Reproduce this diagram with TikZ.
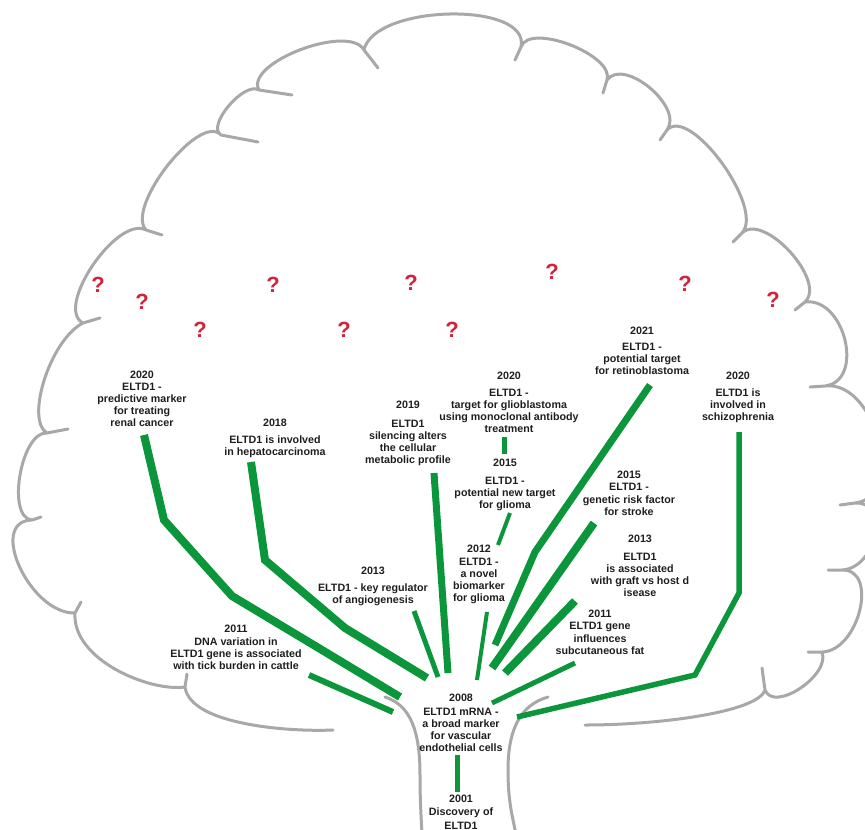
\documentclass[tikz,border=0pt]{standalone}
\usepackage{fontspec}
\setmainfont{Liberation Sans}
\definecolor{treegray}{RGB}{168,168,168}
\definecolor{branchgreen}{RGB}{12,150,60}
\definecolor{txtcol}{RGB}{30,30,30}
\definecolor{qred}{RGB}{210,35,60}
\begin{document}
\begin{tikzpicture}[x=1pt,y=-1pt,
  canopyline/.style={draw=treegray, line width=3pt, line cap=round, line join=round},
  greenbranch/.style={draw=branchgreen, line width=#1, line cap=butt, line join=miter},
  greenbranch/.default=6pt,
  lbl/.style={font=\bfseries\fontsize{10.7}{12.2}\selectfont, text=txtcol, align=center,
    inner sep=0pt, execute at begin node=\strut, execute at end node=\strut},
  qmark/.style={font=\bfseries\fontsize{22}{24}\selectfont, text=qred, inner sep=0pt}]
\useasboundingbox (0,0) rectangle (865,830);
\clip (0,0) rectangle (865,830);

% ---------- canopy outline ----------
\path[canopyline]
  (333,730) .. controls (290,732) and (190,725) .. (185,687) -- (187,674)
  (185,687) .. controls (150,692) and (72,660) .. (75,613) -- (81,602)
  (75,613) .. controls (30,614) and (-13,521) .. (32,520) -- (41,517)
  (32,520) .. controls (6,518) and (21,431) .. (47,433) -- (68,429)
  (47,433) .. controls (25,420) and (50,340) .. (83,323) -- (100,318)
  (83,323) .. controls (54,308) and (117,215) .. (146,230) -- (162,235)
  (146,230) .. controls (125,207) and (200,112) .. (221,135) -- (258,142)
  (221,135) .. controls (206,126) and (244,81) .. (259,90) -- (292,95)
  (259,90) .. controls (244,63) and (349,23) .. (364,50) -- (378,68)
  (364,50) .. controls (374,4) and (531,1) .. (521,47) -- (515,60)
  (521,47) .. controls (529,22) and (615,55) .. (607,80) -- (603,93)
  (607,80) .. controls (624,57) and (684,107) .. (667,130) -- (660,140)
  (667,130) .. controls (690,105) and (765,208) .. (742,233) -- (733,242)
  (742,233) .. controls (764,212) and (827,281) .. (805,302) -- (795,310)
  (805,302) .. controls (845,297) and (865,381) .. (825,386) -- (810,387)
  (825,386) .. controls (876,380) and (906,497) .. (855,503) -- (840,505)
  (855,503) .. controls (890,501) and (877,568) .. (842,570) -- (828,570)
  (842,570) .. controls (879,569) and (859,651) .. (822,652) -- (808,652)
  (822,652) .. controls (831,675) and (774,713) .. (765,690) -- (762,668)
  (765,690) .. controls (758,712) and (660,725) .. (585,725);

% ---------- trunk ----------
\path[canopyline]
  (385,697) .. controls (410,705) and (420,730) .. (420,775)
            .. controls (420,800) and (421,815) .. (422,834);
\path[canopyline]
  (548,697) .. controls (520,705) and (508,730) .. (508,770)
            .. controls (508,800) and (512,815) .. (516,834);

% ---------- question marks ----------
\node[qmark] (q1) at (98,285) {?};
\node[qmark] (q2) at (142,302) {?};
\node[qmark] (q3) at (200,330) {?};
\node[qmark] (q4) at (273,285) {?};
\node[qmark] (q5) at (344,330) {?};
\node[qmark] (q6) at (411,283) {?};
\node[qmark] (q7) at (452,330) {?};
\node[qmark] (q8) at (552,272) {?};
\node[qmark] (q9) at (685,284) {?};
\node[qmark] (q10) at (773,300) {?};

% ---------- labels ----------
\node[lbl] (renal) at (142,400.5) {2020\\ELTD1 -\\predictive marker\\for treating\\renal cancer};
\node[lbl] (hepato) at (275,439.2) {2018\\[4pt]ELTD1 is involved\\in hepatocarcinoma};
\node[lbl] (metab) at (408,434.4) {2019\\[6pt]ELTD1\\silencing alters\\the cellular\\metabolic profile};
\node[lbl] (gliob) at (509,404.4) {2020\\[4pt]ELTD1 -\\target for glioblastoma\\using monoclonal antibody\\treatment};
\node[lbl] (glioma) at (505,485.8) {2015\\[5pt]ELTD1 -\\potential new target\\for glioma};
\node[lbl] (retino) at (642,352.8) {2021\\[3pt]ELTD1 -\\potential target\\for retinoblastoma};
\node[lbl] (schizo) at (738,398.3) {2020\\[4pt]ELTD1 is\\involved in\\schizophrenia};
\node[lbl] (stroke) at (629,495) {2015\\ELTD1 -\\genetic risk factor\\for stroke};
\node[lbl] (graft) at (640,567.9) {2013\\[5pt]ELTD1\\is associated\\with graft vs host d\\isease};
\node[lbl] (fat) at (600,634) {2011\\ELTD1 gene\\influences\\subcutaneous fat};
\node[lbl] (novel) at (479,575.4) {2012\\ELTD1 -\\a novel\\biomarker\\for glioma};
\node[lbl] (angio) at (373,587.2) {2013\\[4pt]ELTD1 - key regulator\\of angiogenesis};
\node[lbl] (tick) at (236,649.3) {2011\\DNA variation in\\ELTD1 gene is associated\\with tick burden in cattle};
\node[lbl] (mrna) at (461,724.9) {2008\\[1pt]ELTD1 mRNA -\\a broad marker\\for vascular\\endothelial cells};
\node[lbl] (disc) at (461,814) {2001\\[1pt]Discovery of\\[1pt]ELTD1};

% ---------- branch points ----------
\coordinate (a1) at (144,435); \coordinate (a2) at (164,520); \coordinate (a3) at (232,596);
\coordinate (a4) at (317,647); \coordinate (a5) at (400,697);
\coordinate (b1) at (251,462); \coordinate (b2) at (265,560); \coordinate (b3) at (345,628);
\coordinate (b4) at (427,678);
\coordinate (c1) at (309,675); \coordinate (c2) at (393,712);
\coordinate (d1) at (414,611); \coordinate (d2) at (438,677);
\coordinate (e1) at (434,473); \coordinate (e2) at (448,673);
\coordinate (f1) at (504,437); \coordinate (f2) at (504,454);
\coordinate (g1) at (510,513); \coordinate (g2) at (498,545);
\coordinate (h1) at (487,612); \coordinate (h2) at (477,680);
\coordinate (i1) at (650,385); \coordinate (i2) at (535,552); \coordinate (i3) at (495,645);
\coordinate (j1) at (594,523); \coordinate (j2) at (492,668);
\coordinate (k1) at (575,601); \coordinate (k2) at (505,673);
\coordinate (l1) at (575,663); \coordinate (l2) at (492,703);
\coordinate (m1) at (739,432); \coordinate (m2) at (739,593); \coordinate (m3) at (695,675);
\coordinate (m4) at (517,717);
\coordinate (n1) at (457,755); \coordinate (n2) at (457,792);

% ---------- branches ----------
\draw[greenbranch=8pt] (a1) -- (a2) -- (a3) -- (a4) -- (a5);
\draw[greenbranch=8pt] (b1) -- (b2) -- (b3) -- (b4);
\draw[greenbranch=6pt] (c1) -- (c2);
\draw[greenbranch=5pt] (d1) -- (d2);
\draw[greenbranch=7pt] (e1) -- (e2);
\draw[greenbranch=5pt] (f1) -- (f2);
\draw[greenbranch=4pt] (g1) -- (g2);
\draw[greenbranch=4pt] (h1) -- (h2);
\draw[greenbranch=7pt] (i1) -- (i2) -- (i3);
\draw[greenbranch=8pt] (j1) -- (j2);
\draw[greenbranch=8pt] (k1) -- (k2);
\draw[greenbranch=5pt] (l1) -- (l2);
\draw[greenbranch=5.5pt] (m1) -- (m2) -- (m3) -- (m4);
\draw[greenbranch=5pt] (n1) -- (n2);
\end{tikzpicture}
\end{document}
